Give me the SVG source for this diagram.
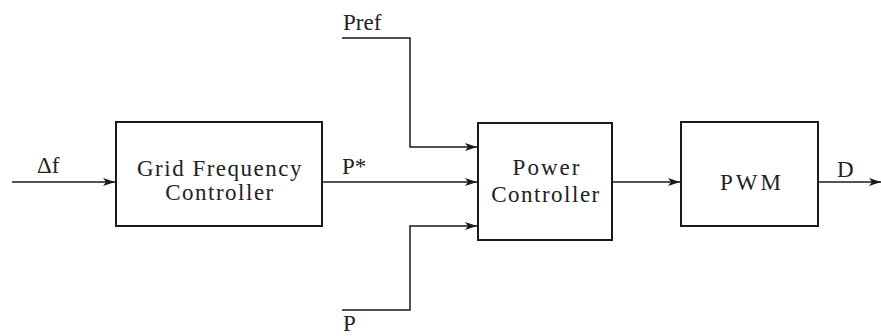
<svg xmlns="http://www.w3.org/2000/svg" width="881" height="336" viewBox="0 0 881 336">
<style>
.box{fill:none;stroke:#1a1a1a;stroke-width:2}
.ln{fill:none;stroke:#1a1a1a;stroke-width:1.5}
text{font-family:"Liberation Serif","Times New Roman",serif;font-size:23px;fill:#222;letter-spacing:1.5px}
.c{text-anchor:middle}
</style>
<defs>
<marker id="ah" viewBox="0 0 12 8" refX="12" refY="4" markerWidth="12" markerHeight="8" markerUnits="userSpaceOnUse" orient="auto">
<path d="M0,0 L12,4 L0,8 L3,4 Z" fill="#1a1a1a"/>
</marker>
</defs>
<rect width="881" height="336" fill="#fff"/>
<g id="connectors">
<path class="ln" d="M12,182 H115" marker-end="url(#ah)"/>
<path class="ln" d="M322,182 H477" marker-end="url(#ah)"/>
<path class="ln" d="M342,38 H410 V147 H477" marker-end="url(#ah)"/>
<path class="ln" d="M342,310 H410 V226 H477" marker-end="url(#ah)"/>
<path class="ln" d="M612,182 H680" marker-end="url(#ah)"/>
<path class="ln" d="M818,182 H881" marker-end="url(#ah)"/>
</g>
<g id="labels">
<text x="37" y="173" style="letter-spacing:0">Δf</text>
<text x="342" y="174" style="letter-spacing:0">P*</text>
<text x="343" y="30" style="letter-spacing:0">Pref</text>
<text x="343" y="331" style="letter-spacing:0">P</text>
<text x="837" y="177" style="letter-spacing:0">D</text>
</g>
<g id="grid-frequency-controller">
<rect class="box" x="116" y="122" width="206" height="104"/>
<text class="c" x="220" y="176">Grid Frequency</text>
<text class="c" x="220" y="200">Controller</text>
</g>
<g id="power-controller">
<rect class="box" x="478" y="123" width="134" height="117"/>
<text class="c" x="547" y="175" style="letter-spacing:2px">Power</text>
<text class="c" x="546" y="202">Controller</text>
</g>
<g id="pwm">
<rect class="box" x="681" y="122" width="137" height="104"/>
<text class="c" x="752" y="190" style="letter-spacing:3px">PWM</text>
</g>
</svg>
